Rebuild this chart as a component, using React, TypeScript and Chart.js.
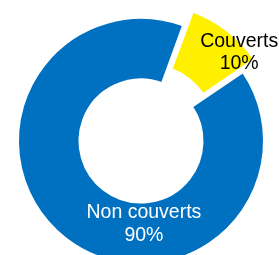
import React, { useEffect, useRef } from "react";
import { Chart, registerables } from "chart.js";

Chart.register(...registerables);

const categories = ["Couverts", "Non couverts"];
const values = [10, 90];
const colors = ["#FFF000", "#0070C0"];
const labelColors = ["#000000", "#FFFFFF"];
// label placement: angle (deg, clockwise from top) and distance as fraction of outer radius
const labelAngles = [48, 178];
const labelDists = [1.074, 0.675];

const labelPlugin = {
  id: "sliceLabels",
  afterDatasetsDraw(chart: any) {
    const meta = chart.getDatasetMeta(0);
    const ctx = chart.ctx;
    const total = values.reduce((a, b) => a + b, 0);
    ctx.save();
    ctx.font = "19.5px 'Liberation Sans', Arial, sans-serif";
    ctx.textAlign = "center";
    ctx.textBaseline = "middle";
    meta.data.forEach((arc: any, i: number) => {
      const a = (labelAngles[i] * Math.PI) / 180;
      const r = arc.outerRadius * labelDists[i];
      const x = arc.x + r * Math.sin(a);
      const y = arc.y - r * Math.cos(a);
      const pct = Math.round((values[i] / total) * 100) + "%";
      ctx.fillStyle = labelColors[i];
      ctx.fillText(categories[i], x, y - 11);
      ctx.fillText(pct, x, y + 11.5);
    });
    ctx.restore();
  },
};

export default function App() {
  const ref = useRef<HTMLCanvasElement>(null);
  useEffect(() => {
    if (!ref.current) return;
    const chart = new Chart(ref.current, {
      type: "doughnut",
      data: {
        labels: categories,
        datasets: [
          {
            data: values,
            backgroundColor: colors,
            borderColor: "#ffffff",
            borderWidth: 2,
            offset: [48, 0],
            hoverOffset: 0,
          },
        ],
      },
      options: {
        animation: false,
        responsive: false,
        rotation: 20,
        cutout: "50%",
        radius: 123,
        layout: { padding: 0 },
        plugins: {
          legend: { display: false },
          tooltip: { enabled: false },
        },
        events: [],
      },
      plugins: [labelPlugin],
    });
    return () => chart.destroy();
  }, []);
  return (
    <div style={{ position: "absolute", left: 0, top: 0, width: 282, height: 282 }}>
      <canvas ref={ref} width={282} height={282} style={{ width: 282, height: 282 }} />
    </div>
  );
}
